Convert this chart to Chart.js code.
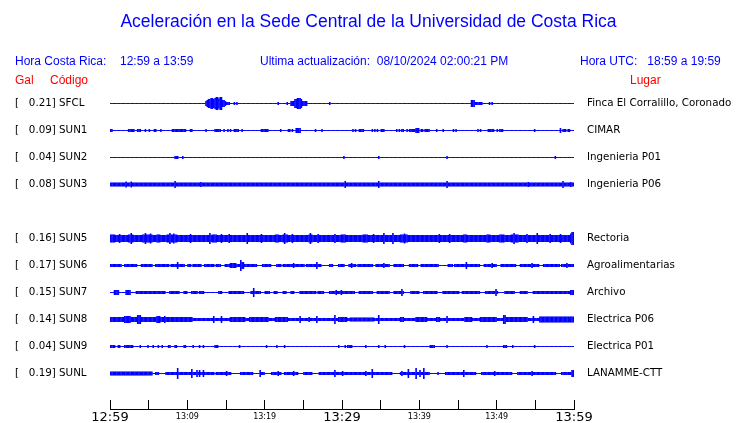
<!DOCTYPE html>
<html>
<head>
<meta charset="utf-8">
<script src="https://cdn.jsdelivr.net/npm/chart.js@4.4.1/dist/chart.umd.min.js"></script>
<style>
  body { margin: 0; background: #fff; }
  #wrap { position: relative; width: 740px; height: 423px; overflow: hidden; }
  #wrap div { position: absolute; white-space: pre; font-family: "Liberation Sans", Arial, sans-serif; line-height: 1; }
  .blue { color: #0000ff; font-size: 12px; }
  .red { color: #ff0000; font-size: 12px; }
  #title { left: 0; width: 737px; text-align: center; top: 13px; font-size: 17.5px; color: #0000ff; }
</style>
</head>
<body>
<div id="wrap">
  <canvas id="sismo" width="740" height="423"></canvas>
  <div id="title">Aceleración en la Sede Central de la Universidad de Costa Rica</div>
  <div class="blue" style="left:15px; top:55px;">Hora Costa Rica:</div>
  <div class="blue" style="left:120px; top:55px;">12:59 a 13:59</div>
  <div class="blue" style="left:260px; top:55px;">Ultima actualización:  08/10/2024 02:00:21 PM</div>
  <div class="blue" style="left:580px; top:55px;">Hora UTC:   18:59 a 19:59</div>
  <div class="red" style="left:15px; top:74px;">Gal</div>
  <div class="red" style="left:50px; top:74px;">Código</div>
  <div class="red" style="left:630px; top:74px;">Lugar</div>
</div>
<script>
// estaciones (SUN4 sin datos)
const codes = ['SFCL', 'SUN1', 'SUN2', 'SUN3', 'SUN4', 'SUN5', 'SUN6', 'SUN7', 'SUN8', 'SUN9', 'SUNL'];
const peakGal = [0.21, 0.09, 0.04, 0.08, null, 0.16, 0.17, 0.15, 0.14, 0.04, 0.19];
const places = ['Finca El Corralillo, Coronado', 'CIMAR', 'Ingenieria P01', 'Ingenieria P06', '',
  'Rectoria', 'Agroalimentarias', 'Archivo', 'Electrica P06', 'Electrica P01', 'LANAMME-CTT'];

// eje de tiempo: minutos desde 12:59
const tickLabels = ['12:59', '', '13:09', '', '13:19', '', '13:29', '', '13:39', '', '13:49', '', '13:59'];

// nivel de ruido de fondo (semi-amplitud) por estacion
const baseLevel = [0.5, 0.5, 0.5, 2, null, 3.5, 1.5, 1.5, 1.5, 0.5, 1.5];

// eventos: [minuto inicio, minuto fin, semi-amplitud]
const traceSFCL = [[12.45, 12.6, 2.5], [12.6, 12.8, 3.5], [12.8, 13.1, 4.5], [13.1, 13.3, 5.5], [13.3, 13.6, 4.5],
  [13.6, 13.8, 5.5], [13.8, 14.0, 6.5], [14.0, 14.2, 5], [14.2, 14.35, 6.5], [14.35, 14.7, 3.5], [14.7, 15.0, 2.5],
  [15.05, 15.5, 1.5], [16.0, 16.0, 1.5], [16.4, 16.4, 1.5], [21.8, 21.8, 1.5], [22.95, 22.95, 1.5],
  [23.35, 23.9, 2.5], [23.9, 24.1, 4.5], [24.1, 24.3, 3.5], [24.3, 24.6, 5.5], [24.6, 24.8, 4.5],
  [24.8, 25.35, 2.5], [28.35, 28.35, 1.5],
  [46.75, 47.05, 3.5], [47.05, 48.05, 1.5], [49.05, 49.05, 1.5], [49.4, 49.4, 1.5]];
const traceSUN1 = [[0, 0.3, 1.5], [2.45, 3.05, 1.5], [3.5, 3.95, 1.5], [4.65, 4.65, 1.5], [5.15, 5.15, 1.5],
  [5.7, 5.9, 1.5], [6.6, 6.6, 1.5], [8.0, 8.0, 1.5], [8.3, 8.75, 1.5], [8.9, 9.8, 1.5], [10.45, 10.45, 1.5],
  [10.65, 10.65, 1.5], [12.4, 12.4, 1.5], [13.6, 14.2, 1.5], [14.8, 14.8, 1.5], [15.3, 15.3, 1.5],
  [15.55, 15.55, 1.5], [16.15, 16.6, 1.5], [17.0, 17.0, 1.5], [19.6, 20.4, 1.5], [22.0, 22.0, 1.5],
  [23.05, 23.3, 1.5], [23.5, 23.5, 1.5], [24.0, 24.55, 2.5], [26.5, 26.5, 1.5], [27.45, 27.45, 1.5],
  [31.45, 31.45, 1.5], [31.8, 31.8, 1.5], [32.2, 32.7, 1.5], [33.9, 33.9, 1.5], [34.2, 34.2, 1.5],
  [34.55, 34.55, 1.5], [35.0, 35.4, 1.5], [37.15, 37.15, 1.5], [37.4, 37.4, 1.5], [37.7, 38.0, 1.5],
  [38.45, 38.45, 1.5], [38.8, 39.55, 1.5], [39.65, 39.9, 2.5], [40.2, 40.5, 1.5], [40.8, 41.3, 1.5],
  [42.25, 42.25, 1.5], [43.15, 43.15, 1.5], [44.4, 44.4, 1.5], [44.75, 44.75, 1.5], [47.6, 47.6, 1.5],
  [47.85, 47.85, 1.5], [48.9, 49.55, 1.5], [50.0, 50.0, 1.5], [50.35, 50.8, 1.5], [54.85, 54.85, 1.5],
  [58.2, 58.2, 2.5], [58.55, 58.85, 1.5], [59.2, 59.4, 1.5]];
const traceSUN2 = [[8.4, 8.75, 1.5], [9.35, 9.35, 1.5], [30.3, 30.3, 1.5], [34.75, 34.75, 1.5],
  [43.55, 43.55, 1.5], [57.55, 57.55, 1.5]];
const traceSUN3 = [[2.05, 2.05, 3], [2.7, 2.7, 3], [8.4, 8.4, 3.5], [11.7, 11.7, 2.5], [30.4, 30.4, 3.5],
  [34.7, 34.7, 3.5], [43.6, 43.6, 3.5], [54.05, 54.05, 2.5], [58.5, 58.5, 3.5], [59.5, 59.5, 2.5]];
const traceSUN4 = [];
const traceSUN5 = [[0, 0.65, 4], [1.2, 1.2, 4.5], [2.45, 3.0, 4], [2.7, 2.7, 5.5], [4.2, 4.75, 4], [4.5, 4.5, 5.5],
  [4.9, 5.45, 4], [5.2, 5.2, 5], [6.05, 6.45, 4], [7.45, 8.6, 4], [7.8, 7.8, 5.5], [8.3, 8.3, 5],
  [10.35, 10.35, 4.5], [12.85, 12.85, 5.5], [13.3, 13.8, 4], [14.35, 14.35, 4.5],
  [15.4, 15.4, 4.5], [17.7, 17.7, 5.5], [19.6, 19.6, 4.5], [21.35, 21.7, 4], [22.35, 22.85, 4], [22.6, 22.6, 5.5],
  [23.5, 23.5, 4.5], [25.75, 26.1, 4], [25.9, 25.9, 5.5], [26.95, 26.95, 4.5], [29.1, 29.1, 4.5], [29.95, 30.4, 4],
  [32.7, 33.2, 4], [34.05, 34.05, 4.5], [35.35, 35.35, 5.5], [36.65, 36.65, 5.5], [37.65, 38.35, 4], [38.0, 38.0, 5],
  [42.65, 42.65, 4.5], [43.95, 43.95, 4.5], [45.7, 46.1, 4], [48.7, 49.15, 4], [50.45, 50.85, 4],
  [51.95, 52.8, 4], [52.3, 52.3, 5.5], [53.9, 53.9, 4.5], [55.25, 55.25, 5.5], [56.9, 56.9, 4.5], [58.2, 58.2, 4.5],
  [59.5, 60, 5], [59.8, 60, 6.5]];
const traceSUN6 = [[1.5, 1.7, 0.5], [3.65, 3.95, 0.5], [5.6, 5.8, 0.5], [7.75, 7.75, 0.5], [8.8, 8.8, 3.5],
  [9.7, 9.9, 0.5], [10.5, 10.65, 0.5], [11.85, 12.15, 0.5], [13.6, 13.6, 0.5], [14.45, 14.75, 0.5],
  [15.5, 16.2, 2.5], [16.9, 16.9, 5.5], [17.0, 17.2, 3.5], [19.0, 19.6, 0.5], [20.9, 21.35, 0.5],
  [22.2, 22.2, 0.5], [23.7, 23.7, 2.5], [25.2, 25.2, 0.5], [26.7, 26.7, 3.5], [27.4, 28.25, 0.5],
  [28.9, 29.5, 0.5], [30.4, 30.8, 0.5], [31.25, 31.25, 2.5], [31.9, 31.9, 0.5], [34.05, 34.25, 0.5],
  [35.35, 35.35, 2.5], [36.2, 36.65, 0.5], [38.15, 38.6, 0.5], [39.85, 40.1, 0.5], [42.65, 43.55, 0.5],
  [44.4, 44.4, 0.5], [46.1, 46.1, 3.5], [47.85, 48.25, 0.5], [49.35, 49.35, 2.5], [50.0, 50.45, 0.5],
  [52.6, 53.0, 0.5], [54.55, 54.55, 2.5], [55.6, 56.0, 0.5], [58.2, 58.2, 0.5], [59.05, 59.05, 2.5]];
const traceSUN7 = [[0, 0.55, 0.5], [0.65, 1.15, 2.5], [1.3, 1.85, 0.5], [2.05, 2.6, 2.5], [2.7, 3.2, 0.5],
  [7.2, 7.55, 0.5], [9.05, 9.35, 0.5], [10.1, 10.35, 0.5], [11.4, 11.4, 0.5], [12.3, 14.0, 0.5],
  [14.65, 15.2, 0.5], [17.45, 18.1, 0.5], [18.6, 18.6, 4.5], [19.6, 19.95, 0.5], [20.7, 21.1, 0.5],
  [21.75, 22.2, 0.5], [22.85, 23.3, 0.5], [23.9, 24.35, 0.5], [26.7, 26.7, 0.5], [27.8, 28.2, 0.5],
  [29.3, 29.3, 2.5], [29.95, 29.95, 2.5], [31.7, 32.1, 0.5], [34.05, 34.5, 0.5], [36.2, 36.65, 0.5],
  [37.7, 37.7, 3.5], [38.15, 38.8, 0.5], [40.1, 40.5, 0.5], [42.45, 42.9, 0.5], [45.25, 45.5, 0.5],
  [47.85, 48.5, 0.5], [49.9, 49.9, 3.5], [50.2, 50.85, 0.5], [52.35, 53.0, 0.5], [54.1, 54.55, 0.5],
  [59.5, 59.9, 2.5]];
const traceSUN8 = [[0, 10.55, 2.5], [1.95, 2.6, 3.5], [3.65, 3.95, 4.5], [6.05, 6.35, 3.5], [7.1, 7.1, 3.5],
  [13.35, 13.35, 3.5], [14.45, 14.45, 3.5], [15.5, 17.45, 2.5], [18.1, 20.45, 2.5], [21.35, 22.85, 2.5],
  [24.5, 24.5, 3.5], [25.75, 25.75, 2.5], [26.7, 26.7, 3.5], [29.1, 29.1, 4.5], [29.5, 30.6, 2.5],
  [31.05, 34.05, 2], [34.7, 34.7, 4.5], [37.5, 37.9, 2.5], [39.65, 40.95, 2.5], [42.25, 42.65, 2.5],
  [43.55, 43.55, 3.5], [45.9, 46.75, 2.5], [47.85, 50, 2.5], [50.85, 51.1, 4.5], [51.3, 53.9, 2.5],
  [54.75, 54.75, 3.5], [55.6, 60, 3]];
const traceSUN9 = [[0, 0.65, 1.5], [1.1, 1.3, 1.5], [1.95, 2.35, 1.5], [2.6, 3.0, 1.5], [3.9, 3.9, 1.5],
  [4.95, 4.95, 1.5], [5.6, 5.6, 1.5], [6.25, 6.25, 1.5], [6.7, 6.7, 1.5], [7.55, 7.75, 1.5], [8.4, 8.6, 1.5],
  [9.5, 9.7, 1.5], [10.8, 10.8, 1.5], [11.65, 11.65, 1.5], [12.05, 12.05, 1.5], [13.6, 14.0, 1.5],
  [16.8, 16.8, 1.5], [20.25, 20.25, 1.5], [21.55, 21.55, 1.5], [22.65, 22.65, 1.5], [29.5, 29.5, 1.5],
  [30.4, 30.4, 1.5], [30.8, 31.25, 1.5], [33.0, 33.0, 1.5], [34.7, 34.7, 1.5], [35.55, 35.55, 1.5],
  [38.15, 38.15, 1.5], [41.4, 42.0, 1.5], [43.55, 43.55, 1.5], [48.7, 48.7, 1.5], [50.85, 51.3, 1.5],
  [52.15, 52.15, 1.5], [54.85, 54.85, 1.5]];
const traceSUNL = [[0, 5.4, 2], [5.45, 5.8, 0.5], [6.45, 7.1, 0.5], [8.7, 8.7, 5.5], [10.65, 10.65, 4.5],
  [11.2, 11.2, 3.5], [11.65, 11.65, 3.5], [12.15, 12.15, 3.5], [13.6, 13.6, 0.5], [15.0, 15.0, 2.5],
  [15.75, 16.8, 0.5], [18.55, 19.2, 0.5], [19.4, 19.4, 3.5], [20.05, 20.7, 0.5], [21.75, 21.75, 2.5],
  [22.2, 22.4, 0.5], [23.7, 23.7, 2.5], [24.35, 25.0, 0.5], [26.3, 26.95, 0.5], [29.1, 29.1, 3.5],
  [30.15, 30.15, 2.5], [33.0, 33.0, 2.5], [33.9, 33.9, 4.5], [36.65, 37.5, 0.5], [37.7, 37.7, 2.5],
  [38.6, 38.6, 4.5], [39.65, 39.65, 5.5], [40.0, 40.0, 3.5], [40.5, 40.5, 5.5], [41.4, 42.25, 0.5],
  [42.65, 43.2, 0.5], [45.7, 45.7, 3.5], [47.4, 47.85, 0.5], [49.8, 49.8, 2.5], [52.15, 52.6, 0.5],
  [54.55, 54.55, 2.5], [57.75, 58.2, 0.5], [59.8, 60, 3.5]];

const traces = [traceSFCL, traceSUN1, traceSUN2, traceSUN3, traceSUN4, traceSUN5,
  traceSUN6, traceSUN7, traceSUN8, traceSUN9, traceSUNL];

const ROW = 27;        // separacion entre trazas (unidades de amplitud)
const BIN = 1 / 6;     // 10 s por barra
const SPAN = 60;

function traceBars(k) {
  const out = [];
  if (baseLevel[k] === null) return out;
  const center = k * ROW;
  const nBins = Math.round(SPAN / BIN);
  for (let i = 0; i < nBins; i++) {
    let amp = null;
    traces[k].forEach(([s, e, h]) => {
      const i0 = Math.floor(s / BIN + 1e-6);
      const i1 = Math.max(i0, Math.ceil(e / BIN - 1e-6) - 1);
      if (i >= i0 && i <= i1) amp = amp === null ? h : Math.max(amp, h);
    });
    if (amp === null) amp = baseLevel[k];
    out.push({ x: (i + 0.5) * BIN, y: [center - amp, center + amp] });
  }
  return out;
}

function rowTicks(scale) {
  scale.ticks = codes.map((c, k) => ({ value: k * ROW }));
}

function galLabel(v, i) {
  if (peakGal[i] === null) return '';
  return '[' + peakGal[i].toFixed(2).padStart(7, ' ') + '] ' + codes[i];
}

const datasets = codes.map((code, k) => ({
  label: code,
  data: traceBars(k),
  backgroundColor: '#0000ff',
  borderWidth: 0,
  inflateAmount: 0,
  barPercentage: 1.25,
  categoryPercentage: 1,
  grouped: false
}));

const labelFont = { family: 'DejaVu Sans', size: 10.3 };

new Chart(document.getElementById('sismo'), {
  type: 'bar',
  data: { datasets: datasets },
  options: {
    responsive: false,
    animation: false,
    events: [],
    layout: { padding: { left: 15, right: 0, top: 89, bottom: 0 } },
    plugins: { legend: { display: false }, tooltip: { enabled: false }, title: { display: false } },
    scales: {
      x: {
        type: 'linear', min: 0, max: SPAN, offset: false,
        grid: { drawOnChartArea: false, drawTicks: true, tickLength: -9, color: '#000', offset: false },
        border: { display: true, color: '#000', width: 1 },
        afterFit: (s) => { s.height = 14; },
        ticks: {
          stepSize: 5, autoSkip: false, maxRotation: 0, minRotation: 0, padding: 9, color: '#000',
          callback: (v, i) => tickLabels[i],
          font: (ctx) => (ctx.tick && ctx.tick.value % 30 === 0)
            ? { family: 'DejaVu Sans', size: 13, lineHeight: 1.3 }
            : { family: 'DejaVu Sans', size: 8, lineHeight: 1.95 }
        }
      },
      y: {
        type: 'linear', position: 'left', reverse: true, min: -14.5, max: 305.5,
        grid: { display: false, drawTicks: false }, border: { display: false },
        afterBuildTicks: rowTicks,
        afterFit: (s) => { s.width = 95; },
        ticks: { crossAlign: 'far', padding: 0, autoSkip: false, color: '#000', font: labelFont, callback: galLabel }
      },
      y2: {
        type: 'linear', position: 'right', reverse: true, min: -14.5, max: 305.5,
        grid: { display: true, drawOnChartArea: false, drawTicks: true, tickLength: 13, color: 'rgba(0,0,0,0)' },
        border: { display: false },
        afterBuildTicks: rowTicks,
        afterFit: (s) => { s.width = 166; },
        ticks: { crossAlign: 'near', padding: 0, autoSkip: false, color: '#000', font: labelFont,
          callback: (v, i) => places[i] }
      }
    }
  }
});
</script>
</body>
</html>
